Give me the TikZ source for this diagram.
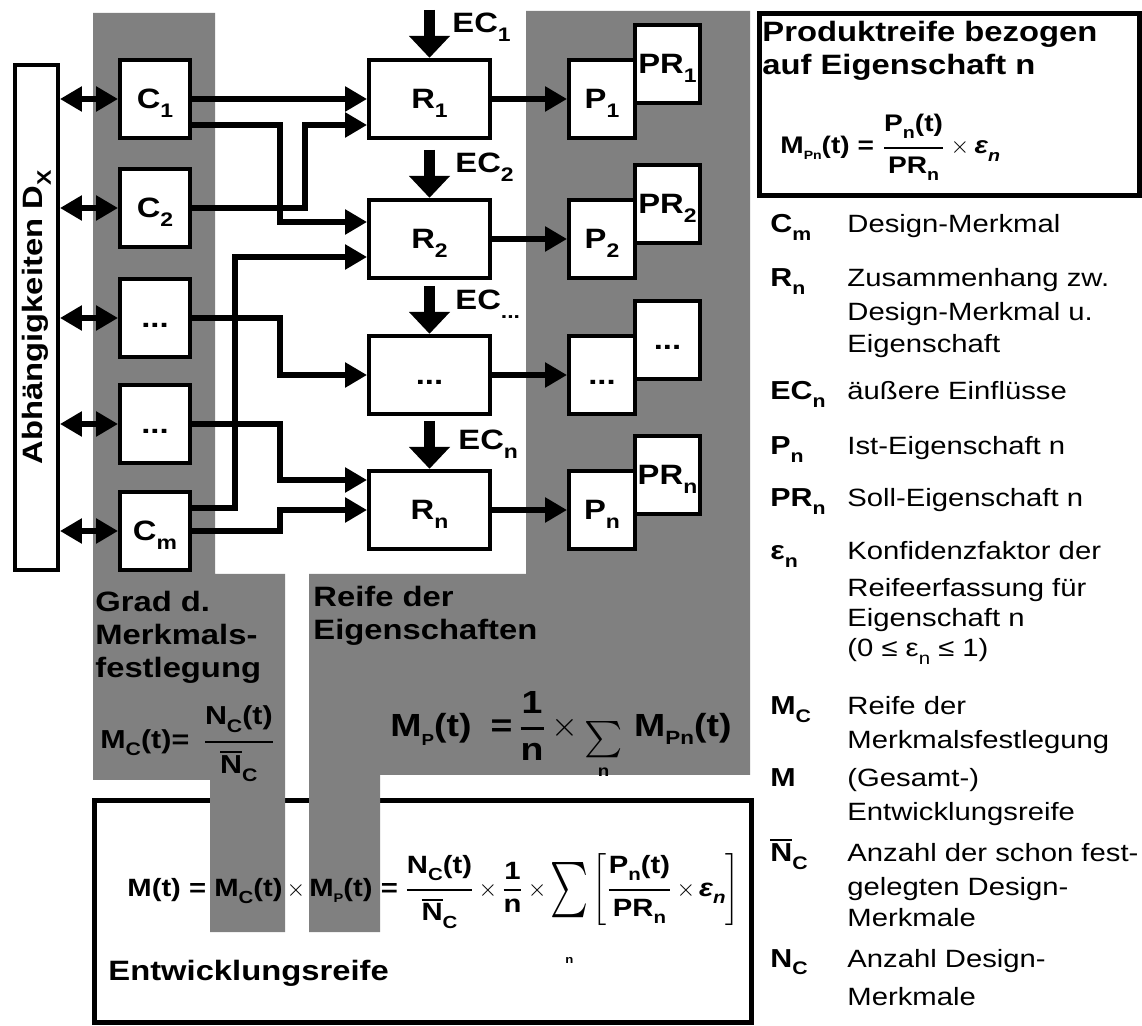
\documentclass[tikz,border=0pt]{standalone}
\usepackage{amsmath}
\usepackage{graphicx}
\usepackage{fontspec}
\setmainfont{Liberation Sans}[FakeStretch=1.17]
\usetikzlibrary{arrows.meta,calc}
\newcommand\dsub[1]{\raisebox{-0.3em}{\scalebox{0.7}{#1}}}
\newcommand\tsub[1]{\raisebox{-0.25em}{\scalebox{0.5}{#1}}}
\newcommand\msub[1]{\raisebox{-0.25em}{\scalebox{0.6}{#1}}}
\newcommand\Nb{\setbox0\hbox{N}\rlap{\rule[0.8em]{\wd0}{0.07em}}N}
\newcommand\fr[2]{\genfrac{}{}{1.3pt}{0}{\mbox{#1}}{\mbox{#2}}}
\newcommand\ssum{\mathop{\mbox{\raisebox{-0.37em}{\scalebox{1.05}{$\sum$}}}}\limits_{\smash{\mbox{\raisebox{1pt}{\scalebox{0.5}{n}}}}}}
\newcommand\bsum{\mathop{\vcenter{\hbox{\scalebox{1.5}[2.3]{$\sum$}}}}\limits_{\smash{\mbox{\raisebox{-16pt}{\scalebox{0.45}{n}}}}}}
\tikzset{
  gry/.style={fill=black!50},
  bx/.style={draw, line width=2.2pt, fill=white, inner sep=0pt, font=\bfseries\fontsize{14}{16}\selectfont, text height=10pt, text depth=0pt},
  cbx/.style={bx, minimum width=34.75pt, minimum height=38.75pt},
  rbx/.style={bx, minimum width=60.25pt, minimum height=39pt},
  pbx/.style={bx, minimum width=32.75pt, minimum height=39pt},
  prbx/.style={bx, minimum width=32.25pt, minimum height=39pt},
  dbx/.style={draw, line width=2.2pt, fill=white, minimum width=21.25pt, minimum height=252.25pt, inner sep=0pt},
  conn/.style={line width=3.3pt, -{Triangle[length=11pt,width=12pt]}},
  darr/.style={line width=3.3pt, {Triangle[length=11pt,width=12pt]}-{Triangle[length=11pt,width=12pt]}},
  ecarr/.style={line width=5.2pt, -{Triangle[length=11pt,width=20pt]}},
  lb/.style={inner sep=0pt, font=\bfseries\fontsize{14}{16}\selectfont, anchor=base west},
  fb/.style={inner sep=0pt, font=\bfseries\fontsize{13}{16}\selectfont, anchor=base west},
  fbs/.style={inner sep=0pt, font=\bfseries\fontsize{12.5}{16}\selectfont, anchor=base west},
  fbt/.style={inner sep=0pt, font=\bfseries\fontsize{12}{16}\selectfont, anchor=base west},
  fbig/.style={inner sep=0pt, font=\bfseries\fontsize{16}{18}\selectfont, anchor=base west},
  ls/.style={inner sep=0pt, font=\bfseries\fontsize{13}{15}\selectfont, anchor=base west},
  lt/.style={inner sep=0pt, font=\fontsize{12.5}{15}\selectfont, anchor=base west},
}
\begin{document}
\begin{tikzpicture}[x=0.5pt,y=-0.5pt]
\useasboundingbox (0,0) rectangle (1142,1026);
\fill[white] (0,0) rectangle (1142,1026);

% bottom box (Entwicklungsreife)
\draw[line width=2.5pt, fill=white] (94.5,800.5) rectangle (751.5,1022);

% gray regions
\fill[gry] (93,13) -- (215,13) -- (215,574) -- (285,574) -- (285,932) -- (210,932) -- (210,780) -- (93,780) -- cycle;
\fill[gry] (526,11) -- (750,11) -- (750,775) -- (380,775) -- (380,932) -- (309,932) -- (309,574) -- (526,574) -- cycle;

% dependency box
\node[dbx] (D) at (36.5,317.5) {};
\node[rotate=90, inner sep=0pt, font=\bfseries\fontsize{14}{16}\selectfont] (Dl) at (D.center) {Abhängigkeiten D\dsub{X}};

% C boxes
\node[cbx] (C1) at (155,99) {C\dsub{1}};
\node[cbx] (C2) at (155,208) {C\dsub{2}};
\node[cbx] (C3) at (155,318) {...};
\node[cbx] (C4) at (155,424) {...};
\node[cbx] (C5) at (155,531) {C\dsub{m}};

% R boxes
\node[rbx] (R1) at (429.5,99) {R\dsub{1}};
\node[rbx] (R2) at (429.5,239) {R\dsub{2}};
\node[rbx] (R3) at (429.5,375) {...};
\node[rbx] (R4) at (429.5,510) {R\dsub{n}};

% PR boxes (behind P)
\node[prbx] (PR1) at (667.5,64) {PR\dsub{1}};
\node[prbx] (PR2) at (667.5,204) {PR\dsub{2}};
\node[prbx] (PR3) at (667.5,340) {...};
\node[prbx] (PR4) at (667.5,475) {PR\dsub{n}};

% P boxes
\node[pbx] (P1) at (602,99) {P\dsub{1}};
\node[pbx] (P2) at (602,239) {P\dsub{2}};
\node[pbx] (P3) at (602,375) {...};
\node[pbx] (P4) at (602,510) {P\dsub{n}};

% helper coordinates
\coordinate (xa) at (235,0);
\coordinate (xb) at (280,0);
\coordinate (xc) at (305,0);
\coordinate (r1b) at ($(R1.west)+(0,26)$);
\coordinate (r2a) at ($(R2.west)+(0,-17)$);
\coordinate (r2b) at ($(R2.west)+(0,18)$);
\coordinate (r4a) at ($(R4.west)+(0,-30)$);
\coordinate (c1b) at ($(C1.east)+(0,26)$);
\coordinate (c5a) at ($(C5.east)+(0,-23)$);

% dependency arrows
\foreach \c in {C1,C2,C3,C4,C5}
  \draw[darr] (D.east |- \c) -- (\c.west);

% C -> R
\draw[conn] (C1.east) -- (R1.west);
\draw[conn] (c1b) -| (xb |- r2a) -- (r2a);
\draw[conn] (C2.east) -| (xc |- r1b) -- (r1b);
\draw[conn] (C3.east) -| (xb |- R3.west) -- (R3.west);
\draw[conn] (C4.east) -| (xb |- r4a) -- (r4a);
\draw[conn] (c5a) -| (xa |- r2b) -- (r2b);
\draw[conn] (C5.east) -| (xb |- R4.west) -- (R4.west);

% R -> P
\foreach \i in {1,2,3,4}
  \draw[conn] (R\i.east) -- (P\i.west);

% external influences
\foreach \i in {1,2,3,4}
  \draw[ecarr] ($(R\i.north)+(0,-48)$) -- (R\i.north);
\node[lb] (ec1) at ($(R1.north)+(22.5,-25)$) {EC\dsub{1}};
\node[lb] (ec2) at ($(R2.north)+(25.5,-25)$) {EC\dsub{2}};
\node[lb] (ec3) at ($(R3.north)+(25.5,-24)$) {EC\dsub{...}};
\node[lb] (ec4) at ($(R4.north)+(28.5,-19)$) {EC\dsub{n}};

% group labels
\node[lb] (g1) at (95,612) {Grad d.};
\node[lb] (g2) at (95,645) {Merkmals-};
\node[lb] (g3) at (95,678) {festlegung};
\node[lb] (g4) at (313,607) {Reife der};
\node[lb] (g5) at (313,640) {Eigenschaften};

% formulas
\node[fb] (fMc) at (100,748) {$\mbox{M\dsub{C}(t)=}\;\;\fr{N\dsub{C}(t)}{\Nb\dsub{C}}$};
\node[fbig] (fMp) at (390,737) {$\medmuskip=3mu\mbox{M\tsub{P}(t)}\;\;\mbox{=}\,\fr{1}{n}\times\ssum\,\mbox{M\msub{Pn}(t)}$};
\node[fbs] (fM) at (127,896) {$\medmuskip=3mu\mbox{M(t) = M\dsub{C}(t)}\times\mbox{M\tsub{P}(t) =}\;\fr{N\dsub{C}(t)}{\Nb\dsub{C}}\times\fr{1}{n}\times\bsum\left[\fr{P\dsub{n}(t)}{PR\dsub{n}}\times\mbox{\itshape ε\dsub{n}}\right]$};
\node[lb] (ent) at (108,980) {Entwicklungsreife};

% top right box
\draw[line width=2.5pt] (759,14) rectangle (1139,196);
\node[lb] (t1) at (762,42) {Produktreife bezogen};
\node[lb] (t2) at (762,75) {auf Eigenschaft n};
\node[fbt] (fPn) at (780,154) {$\mbox{M\tsub{Pn}(t) = }\fr{P\dsub{n}(t)}{PR\dsub{n}}\times\mbox{\itshape ε\dsub{n}}$};

% legend symbols
\node[ls] (s1) at (770,233) {C\dsub{m}};
\node[ls] (s2) at (770,287) {R\dsub{n}};
\node[ls] (s3) at (770,400) {EC\dsub{n}};
\node[ls] (s4) at (770,455) {P\dsub{n}};
\node[ls] (s5) at (770,507) {PR\dsub{n}};
\node[ls] (s6) at (770,560) {ε\dsub{n}};
\node[ls] (s7) at (770,715) {M\dsub{C}};
\node[ls] (s8) at (770,787) {M};
\node[ls] (s9) at (770,862) {\Nb\dsub{C}};
\node[ls] (s10) at (770,967) {N\dsub{C}};

% legend texts
\foreach \yy/\tx [count=\k] in {
  233/{Design-Merkmal},
  287/{Zusammenhang zw.},
  321/{Design-Merkmal u.},
  353/{Eigenschaft},
  400/{äußere Einflüsse},
  455/{Ist-Eigenschaft n},
  507/{Soll-Eigenschaft n},
  560/{Konfidenzfaktor der},
  597/{Reifeerfassung für},
  627/{Eigenschaft n},
  657/{(0 ≤ ε\dsub{n} ≤ 1)},
  715/{Reife der},
  748/{Merkmalsfestlegung},
  787/{(Gesamt-)},
  820/{Entwicklungsreife},
  862/{Anzahl der schon fest-},
  895/{gelegten Design-},
  927/{Merkmale},
  967/{Anzahl Design-},
  1005/{Merkmale}}
  \node[lt] (d\k) at (847,\yy) {\tx};
\end{tikzpicture}
\end{document}
